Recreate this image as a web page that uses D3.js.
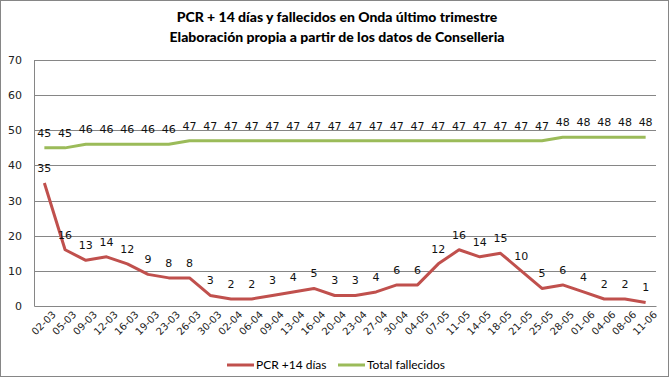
<!DOCTYPE html>
<html>
<head>
<meta charset="utf-8">
<script src="https://cdn.jsdelivr.net/npm/d3@7"></script>
<style>
  body { margin: 0; background: #fff; }
  svg { display: block; }
</style>
</head>
<body>
<div id="chart"></div>
<script>
// fechas (categorías del eje x)
const fechas = ['02-03','05-03','09-03','12-03','16-03','19-03','23-03','26-03','30-03','02-04',
    '06-04','09-04','13-04','16-04','20-04','23-04','27-04','30-04','04-05','07-05',
    '11-05','14-05','18-05','21-05','25-05','28-05','01-06','04-06','08-06','11-06'];

// PCR +14 días
const pcr14 = [35,16,13,14,12,9,8,8,3,2,2,3,4,5,3,3,4,6,6,12,16,14,15,10,5,6,4,2,2,1];

// Total fallecidos
const fallecidos = [45,45,46,46,46,46,46,47,47,47,47,47,47,47,47,47,47,47,47,47,
    47,47,47,47,47,48,48,48,48,48];

const yTicks = [0,10,20,30,40,50,60,70];

const series = [
    {name: 'PCR +14 días', values: pcr14, color: '#C0504D'},
    {name: 'Total fallecidos', values: fallecidos, color: '#9BBB59'}
];

const W = 670, H = 377;
const margin = {top: 60, right: 14, bottom: 71, left: 34};
const width = W - margin.left - margin.right;
const height = H - margin.top - margin.bottom;

const svg = d3.select('#chart').append('svg')
    .attr('width', W)
    .attr('height', H);

// marco exterior
svg.append('rect')
    .attr('x', 0.5).attr('y', 0.5)
    .attr('width', W - 2).attr('height', H - 1)
    .attr('fill', '#fff')
    .attr('stroke', '#868686');

// título
const title = svg.append('text')
    .attr('text-anchor', 'middle')
    .style('font-family', 'Lato, sans-serif')
    .style('font-weight', '900')
    .style('font-size', '14px')
    .attr('fill', '#000');
title.append('tspan').attr('x', 337).attr('y', 22)
    .text('PCR + 14 días y fallecidos en Onda último trimestre');
title.append('tspan').attr('x', 337).attr('y', 42)
    .text('Elaboración propia a partir de los datos de Conselleria');

const g = svg.append('g')
    .attr('transform', `translate(${margin.left},${margin.top})`);

// escalas
const x = d3.scaleBand()
    .domain(fechas)
    .range([0, width]);

const y = d3.scaleLinear()
    .domain([0, 70])
    .range([height, 0]);

const cx = d => x(d) + x.bandwidth() / 2;

// rejilla horizontal
g.append('g')
    .selectAll('line')
    .data(yTicks.filter(t => t > 0))
    .join('line')
    .attr('x1', 0).attr('x2', width)
    .attr('y1', d => Math.round(y(d)) + 0.5)
    .attr('y2', d => Math.round(y(d)) + 0.5)
    .attr('stroke', '#868686')
    .attr('stroke-width', 1);

// eje y
const yAxis = g.append('g')
    .call(d3.axisLeft(y).tickValues(yTicks).tickSize(0).tickPadding(12));
yAxis.select('.domain').attr('stroke', '#868686');
yAxis.selectAll('text')
    .style('font-family', '"DejaVu Sans", Verdana, sans-serif')
    .style('font-size', '11px')
    .attr('fill', '#222');

// eje x
const xAxis = g.append('g')
    .attr('transform', `translate(0,${height})`)
    .call(d3.axisBottom(x).tickSize(0).tickPadding(6));
xAxis.select('.domain').attr('stroke', '#868686');
xAxis.selectAll('text')
    .style('font-family', '"DejaVu Sans", Verdana, sans-serif')
    .style('font-size', '10px')
    .attr('fill', '#222')
    .attr('text-anchor', 'end')
    .attr('dx', '0.2em')
    .attr('dy', '0.9em')
    .attr('transform', 'rotate(-45)');

// líneas
const line = d3.line()
    .x((d, i) => cx(fechas[i]))
    .y(d => y(d));

series.forEach(s => {
    g.append('path')
        .datum(s.values)
        .attr('fill', 'none')
        .attr('stroke', s.color)
        .attr('stroke-width', 3)
        .attr('stroke-linejoin', 'round')
        .attr('d', line);

    // etiquetas de datos
    g.append('g')
        .selectAll('text')
        .data(s.values)
        .join('text')
        .attr('x', (d, i) => cx(fechas[i]))
        .attr('y', d => y(d) - 11)
        .attr('text-anchor', 'middle')
        .style('font-family', '"DejaVu Sans", Verdana, sans-serif')
        .style('font-size', '11px')
        .attr('fill', '#111')
        .text(d => d);
});

// leyenda
const legend = svg.append('g').attr('transform', 'translate(227,365)');
const legItems = [{x: 0, s: series[0]}, {x: 111, s: series[1]}];
legItems.forEach(it => {
    legend.append('line')
        .attr('x1', it.x).attr('x2', it.x + 27)
        .attr('y1', 0).attr('y2', 0)
        .attr('stroke', it.s.color)
        .attr('stroke-width', 3);
    legend.append('text')
        .attr('x', it.x + 29).attr('y', 4)
        .style('font-family', 'Lato, sans-serif')
        .style('font-size', '12px')
        .attr('fill', '#000')
        .text(it.s.name);
});
</script>
</body>
</html>
